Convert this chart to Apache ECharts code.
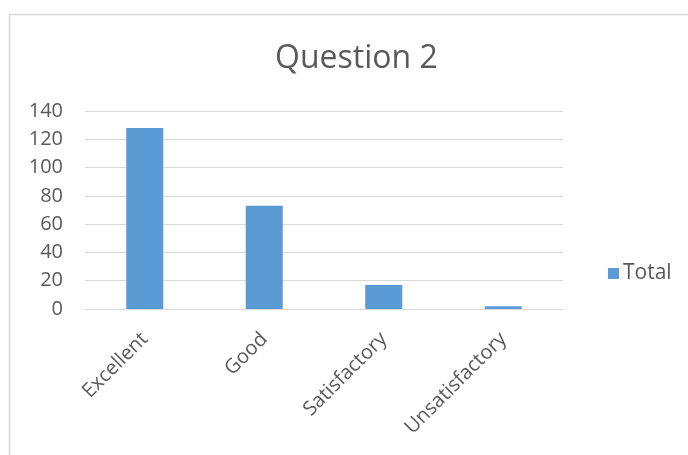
<!DOCTYPE html>
<html>
<head>
<meta charset="utf-8">
<script src="https://cdn.jsdelivr.net/npm/echarts@6/dist/echarts.min.js"></script>
<style>
  html, body { margin: 0; padding: 0; background: #fff; }
  #chart { width: 688px; height: 455px; }
</style>
</head>
<body>
<div id="chart"></div>
<script>
const categories = ['Excellent', 'Good', 'Satisfactory', 'Unsatisfactory']
const totals = [128, 73, 17, 2]
const yTicks = { min: 0, max: 140, interval: 20 }

const chart = echarts.init(document.getElementById('chart'))
const textColor = '#595959'
const font = 'Open Sans, Liberation Sans, sans-serif'

const option = {
  animation: false,
  graphic: [
    {
      type: 'rect',
      left: 7,
      top: 12,
      shape: { width: 720, height: 470 },
      style: { fill: 'none', stroke: '#d9d9d9', lineWidth: 1.5 },
      silent: true
    }
  ],
  title: {
    text: 'Question 2',
    left: 270,
    top: 38,
    textStyle: { fontSize: 32, fontWeight: 'normal', color: textColor, fontFamily: font }
  },
  legend: {
    data: ['Total'],
    left: 603,
    top: 258,
    itemWidth: 11,
    itemHeight: 11,
    icon: 'rect',
    itemGap: 5,
    textStyle: { fontSize: 21, color: textColor, fontFamily: font, padding: [0, 0, 0, -1] }
  },
  grid: {
    left: 85,
    right: 125,
    top: 111,
    bottom: 146,
    containLabel: false
  },
  xAxis: {
    type: 'category',
    data: categories,
    axisTick: { show: false },
    axisLine: { lineStyle: { color: '#d9d9d9', width: 1 } },
    axisLabel: {
      rotate: 45,
      fontSize: 20,
      color: textColor,
      fontFamily: font,
      margin: 27
    }
  },
  yAxis: {
    type: 'value',
    min: yTicks.min,
    max: yTicks.max,
    interval: yTicks.interval,
    axisLine: { show: false },
    axisTick: { show: false },
    axisLabel: { fontSize: 20, color: textColor, fontFamily: font, margin: 22 },
    splitLine: { lineStyle: { color: '#d9d9d9', width: 1 } }
  },
  series: [
    {
      name: 'Total',
      type: 'bar',
      data: totals,
      barWidth: '31%',
      itemStyle: { color: '#5b9bd5' }
    }
  ]
}
chart.setOption(option)
</script>
</body>
</html>
